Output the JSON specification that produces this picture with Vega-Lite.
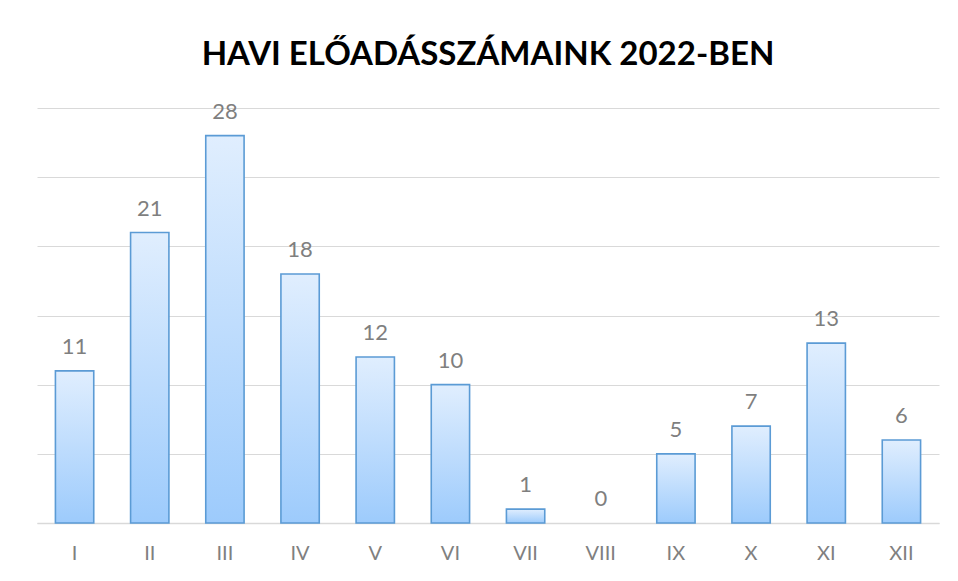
{
  "$schema": "https://vega.github.io/schema/vega-lite/v6.json",
  "width": 902,
  "height": 415,
  "autosize": "none",
  "padding": {"left": 37, "top": 108, "right": 19, "bottom": 58},
  "background": "white",
  "title": {
    "text": "HAVI ELŐADÁSSZÁMAINK 2022-BEN",
    "font": "Lato",
    "fontWeight": "bold",
    "fontSize": 33,
    "color": "#000000",
    "anchor": "middle",
    "offset": 29
  },
  "data": {
    "values": [
      {"honap": "I", "eloadas": 11},
      {"honap": "II", "eloadas": 21},
      {"honap": "III", "eloadas": 28},
      {"honap": "IV", "eloadas": 18},
      {"honap": "V", "eloadas": 12},
      {"honap": "VI", "eloadas": 10},
      {"honap": "VII", "eloadas": 1},
      {"honap": "VIII", "eloadas": 0},
      {"honap": "IX", "eloadas": 5},
      {"honap": "X", "eloadas": 7},
      {"honap": "XI", "eloadas": 13},
      {"honap": "XII", "eloadas": 6}
    ]
  },
  "encoding": {
    "x": {
      "field": "honap",
      "type": "nominal",
      "sort": null,
      "scale": {"paddingInner": 0.49, "paddingOuter": 0.245},
      "axis": {
        "title": null,
        "labelAngle": 0,
        "labelFont": "Lato",
        "labelFontSize": 20,
        "labelColor": "#808080",
        "labelPadding": 20,
        "ticks": false,
        "domainColor": "#d9d9d9",
        "domainWidth": 1.5
      }
    },
    "y": {
      "field": "eloadas",
      "type": "quantitative",
      "scale": {"domain": [0, 30]},
      "axis": {
        "title": null,
        "labels": false,
        "ticks": false,
        "domain": false,
        "values": [0, 5, 10, 15, 20, 25, 30],
        "gridColor": "#d9d9d9",
        "gridWidth": 1.2
      }
    }
  },
  "layer": [
    {
      "mark": {
        "type": "bar",
        "stroke": "#5b9bd5",
        "strokeWidth": 1.6,
        "cornerRadius": 0,
        "color": {
          "gradient": "linear",
          "x1": 0, "y1": 0, "x2": 0, "y2": 1,
          "stops": [
            {"offset": 0, "color": "#e0eefe"},
            {"offset": 1, "color": "#9dcbfc"}
          ]
        }
      },
      "encoding": {
        "strokeOpacity": {"condition": {"test": "datum.eloadas == 0", "value": 0}, "value": 1}
      }
    },
    {
      "mark": {
        "type": "text",
        "font": "Lato",
        "fontSize": 22,
        "color": "#7f7f7f",
        "baseline": "alphabetic",
        "dy": -17
      },
      "encoding": {"text": {"field": "eloadas", "type": "quantitative"}}
    }
  ],
  "config": {"view": {"stroke": null}}
}
